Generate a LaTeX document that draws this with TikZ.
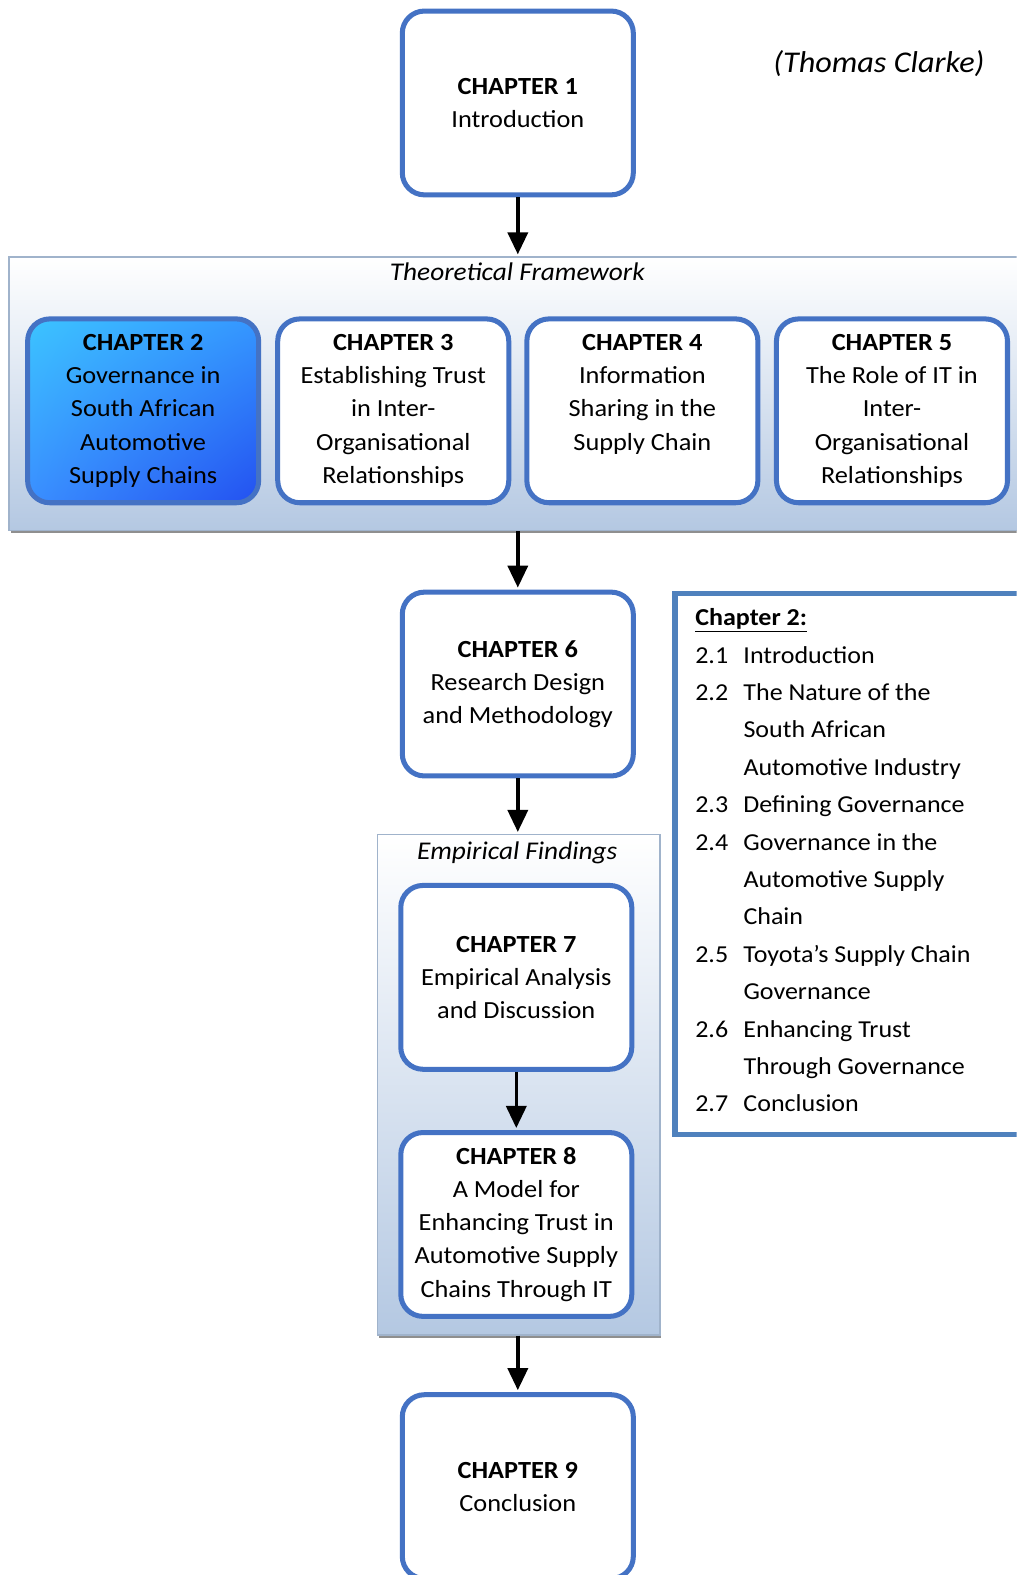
\documentclass[tikz,border=0pt]{standalone}
\usepackage{fontspec}
\setmainfont{Carlito}[FakeStretch=1.07]
\usetikzlibrary{arrows.meta,shadings,shadows}

\definecolor{boxblue}{HTML}{4472C4}
\definecolor{listblue}{HTML}{4F81BD}
\definecolor{panelblue}{HTML}{B4C8E2}
\definecolor{panelrule}{HTML}{A0B3CB}
\definecolor{hiUL}{HTML}{3CC4FF}
\definecolor{hiUR}{HTML}{3596FF}
\definecolor{hiLL}{HTML}{3A8EFF}
\definecolor{hiLR}{HTML}{2350F0}

\tikzset{
  chap/.style={draw=boxblue, line width=5pt, rounded corners=22pt, fill=white,
    minimum width=230pt, minimum height=183pt, inner sep=0pt, align=center,
    font=\fontsize{24.5}{33}\selectfont, text=black},
  chaphi/.style={chap, upper left=hiUL, upper right=hiUR, lower left=hiLL, lower right=hiLR},
  panel/.style={draw=panelrule, line width=1.5pt, top color=white, bottom color=panelblue,
    inner sep=0pt, drop shadow={shadow xshift=1.5pt, shadow yshift=-3pt, fill=black!55, opacity=.8}},
  paneltitle/.style={font=\fontsize{25.4}{28}\selectfont\itshape},
  flow/.style={-{Triangle[length=22pt,width=20pt]}, line width=3.5pt, black, shorten >=2pt},
  listtext/.style={font=\fontsize{24.2}{28}\selectfont, anchor=base west, inner sep=0pt},
}

\begin{document}
\begin{tikzpicture}[x=1pt,y=-1pt]
\useasboundingbox (0,0) rectangle (1012,1568);
\fill[white] (0,0) rectangle (1012,1568);
\clip (0,0) rectangle (1012,1568);

% author tag
\node[font=\fontsize{30}{34}\selectfont\itshape] (author) at (875,63) {(Thomas Clarke)};

% introduction
\node[chap] (ch1) at (515.5,102.5) {\textbf{CHAPTER 1}\\Introduction};

% theoretical framework panel
\node[panel, minimum width=1016pt, minimum height=272pt] (tf) at (517,392) {};
\node[paneltitle] (tftitle) at (515,271) {Theoretical Framework};
\node[chaphi] (ch2) at (142.5,409) {\textbf{CHAPTER 2}\\Governance in\\South African\\Automotive\\Supply Chains};
\node[chap] (ch3) at (391.5,409) {\textbf{CHAPTER 3}\\Establishing Trust\\in Inter-\\Organisational\\Relationships};
\node[chap] (ch4) at (639.5,409) {\textbf{CHAPTER 4}\\Information\\Sharing in the\\Supply Chain\\\phantom{Relationships}};
\node[chap] (ch5) at (888,409) {\textbf{CHAPTER 5}\\The Role of IT in\\Inter-\\Organisational\\Relationships};

% research design
\node[chap] (ch6) at (515.5,681) {\textbf{CHAPTER 6}\\Research Design\\and Methodology};

% empirical findings panel
\node[panel, minimum width=281pt, minimum height=498pt] (ef) at (516.5,1080) {};
\node[paneltitle] (eftitle) at (515,849) {Empirical Findings};
\node[chap] (ch7) at (514,973) {\textbf{CHAPTER 7}\\Empirical Analysis\\and Discussion};
\node[chap] (ch8) at (514,1219) {\textbf{CHAPTER 8}\\A Model for\\Enhancing Trust in\\Automotive Supply\\Chains Through IT};

% conclusion
\node[chap] (ch9) at (515.5,1480) {\textbf{CHAPTER 9}\\Conclusion};

% flow between the parts
\draw[flow] (ch1.south) -- (ch1.south |- tf.north);
\draw[flow] (ch6.north |- tf.south) -- (ch6.north);
\draw[flow] (ch6.south) -- (ch6.south |- ef.north);
\draw[flow] (ch7.south) -- (ch8.north);
\draw[flow] (ch9.north |- ef.south) -- (ch9.north);

% contents of chapter 2
\node[draw=listblue, line width=5pt, fill=white, minimum width=360pt, minimum height=538pt,
      anchor=north west, inner sep=0pt] (toc) at (669.5,588.5) {};
\node[listtext] (toc0) at (692,623) {\textbf{\underline{Chapter 2:}}};
\foreach \num/\txt [count=\i] in {
    2.1/Introduction,
    2.2/The Nature of the,
    /South African,
    /Automotive Industry,
    2.3/Defining Governance,
    2.4/Governance in the,
    /Automotive Supply,
    /Chain,
    2.5/Toyota’s Supply Chain,
    /Governance,
    2.6/Enhancing Trust,
    /Through Governance,
    2.7/Conclusion}
  \node[listtext] (toc\i) at (692,623+\i*37.23) {\makebox[48pt][l]{\num}\txt};
\end{tikzpicture}
\end{document}
